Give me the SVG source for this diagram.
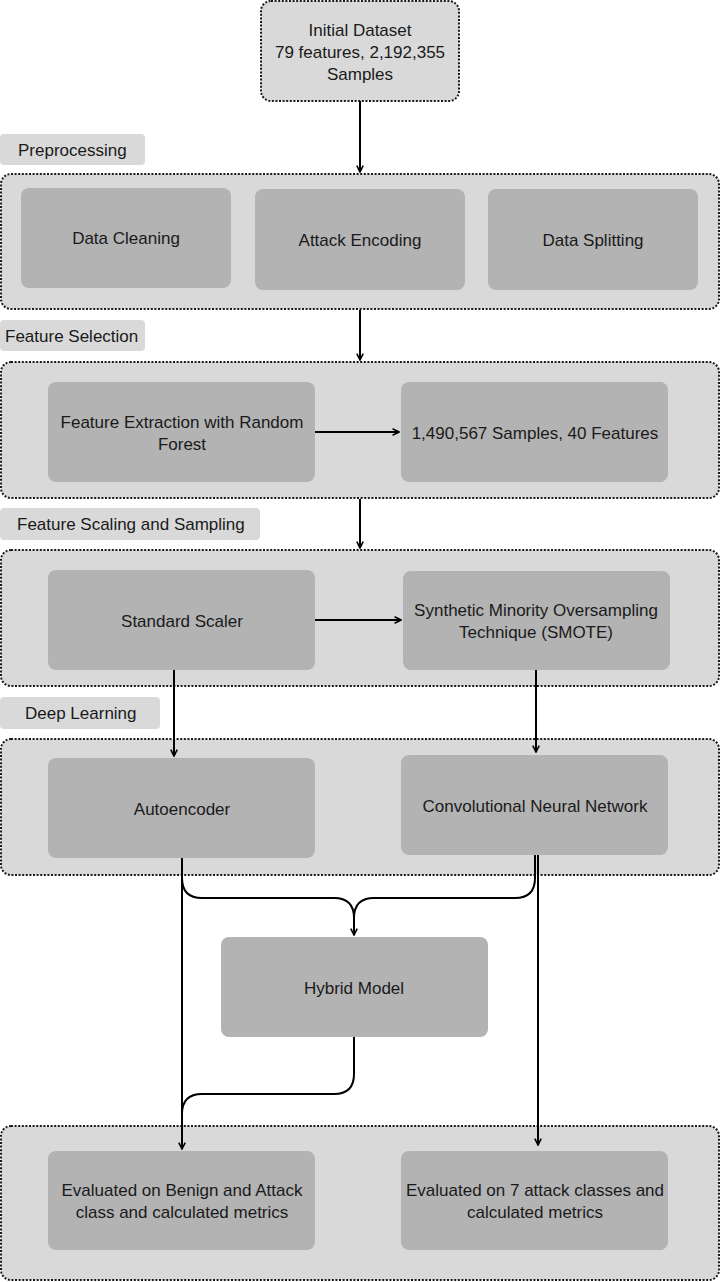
<svg xmlns="http://www.w3.org/2000/svg" width="721" height="1282" viewBox="0 0 721 1282">
<style>
.bg{fill:#ffffff}
.cont{fill:#d9d9d9;stroke:#1a1a1a;stroke-width:2;stroke-dasharray:2 1.6}
.lab{fill:#d9d9d9}
.box{fill:#b3b3b3}
text{font-family:"Liberation Sans","Open Sans",Arial,sans-serif;font-size:17px;fill:#1a1a1a}
.c{text-anchor:middle}
.ln{fill:none;stroke:#000;stroke-width:2}
</style>
<defs>
<marker id="ah" viewBox="0 0 10 10" refX="9" refY="5" markerWidth="8" markerHeight="8" markerUnits="userSpaceOnUse" orient="auto">
<path d="M1,1 L9,5 L1,9" fill="none" stroke="#000" stroke-width="2"/>
</marker>
</defs>
<rect class="bg" x="0" y="0" width="721" height="1282"/>

<g id="initial-dataset">
<rect class="cont" x="261" y="1" width="198" height="100" rx="10"/>
<text class="c" x="360" y="36">Initial Dataset</text>
<text class="c" x="360" y="58">79 features, 2,192,355</text>
<text class="c" x="360" y="80">Samples</text>
</g>

<g id="label-preprocessing">
<rect class="lab" x="0" y="134" width="145" height="31" rx="4"/>
<text x="18" y="156">Preprocessing</text>
</g>
<g id="preprocessing">
<rect class="cont" x="1" y="174" width="718" height="135" rx="10"/>
</g>
<g id="data-cleaning">
<rect class="box" x="21" y="188" width="210" height="100" rx="8"/>
<text class="c" x="126" y="244">Data Cleaning</text>
</g>
<g id="attack-encoding">
<rect class="box" x="255" y="189" width="210" height="101" rx="8"/>
<text class="c" x="360" y="246">Attack Encoding</text>
</g>
<g id="data-splitting">
<rect class="box" x="488" y="189" width="210" height="101" rx="8"/>
<text class="c" x="593" y="246">Data Splitting</text>
</g>

<g id="label-feature-selection">
<rect class="lab" x="0" y="320" width="145" height="31" rx="4"/>
<text x="5" y="342">Feature Selection</text>
</g>
<g id="feature-selection">
<rect class="cont" x="1" y="362" width="718" height="136" rx="10"/>
</g>
<g id="feature-extraction">
<rect class="box" x="48" y="382" width="267" height="100" rx="8"/>
<text class="c" x="182" y="428">Feature Extraction with Random</text>
<text class="c" x="182" y="450">Forest</text>
</g>
<g id="samples-features">
<rect class="box" x="401" y="382" width="267" height="100" rx="8"/>
<text class="c" x="535" y="439">1,490,567 Samples, 40 Features</text>
</g>

<g id="label-feature-scaling">
<rect class="lab" x="0" y="508" width="260" height="32" rx="4"/>
<text x="17" y="530">Feature Scaling and Sampling</text>
</g>
<g id="feature-scaling">
<rect class="cont" x="1" y="550" width="718" height="136" rx="10"/>
</g>
<g id="standard-scaler">
<rect class="box" x="48" y="570" width="267" height="100" rx="8"/>
<text class="c" x="182" y="627">Standard Scaler</text>
</g>
<g id="smote">
<rect class="box" x="403" y="571" width="267" height="99" rx="8"/>
<text class="c" x="536" y="616">Synthetic Minority Oversampling</text>
<text class="c" x="536" y="638">Technique (SMOTE)</text>
</g>

<g id="label-deep-learning">
<rect class="lab" x="0" y="697" width="160" height="32" rx="4"/>
<text x="25" y="719">Deep Learning</text>
</g>
<g id="deep-learning">
<rect class="cont" x="1" y="739" width="718" height="136" rx="10"/>
</g>
<g id="autoencoder">
<rect class="box" x="48" y="758" width="267" height="100" rx="8"/>
<text class="c" x="182" y="815">Autoencoder</text>
</g>
<g id="cnn">
<rect class="box" x="401" y="755" width="267" height="100" rx="8"/>
<text class="c" x="535" y="812">Convolutional Neural Network</text>
</g>

<g id="hybrid-model">
<rect class="box" x="221" y="937" width="267" height="100" rx="8"/>
<text class="c" x="354" y="994">Hybrid Model</text>
</g>

<g id="evaluation">
<rect class="cont" x="1" y="1126" width="718" height="154" rx="10"/>
</g>
<g id="eval-binary">
<rect class="box" x="48" y="1151" width="267" height="99" rx="8"/>
<text class="c" x="182" y="1196">Evaluated on Benign and Attack</text>
<text class="c" x="182" y="1218">class and calculated metrics</text>
</g>
<g id="eval-multiclass">
<rect class="box" x="401" y="1151" width="267" height="99" rx="8"/>
<text class="c" x="535" y="1196">Evaluated on 7 attack classes and</text>
<text class="c" x="535" y="1218">calculated metrics</text>
</g>

<g id="connectors">
<path class="ln" d="M360,101 V172" marker-end="url(#ah)"/>
<path class="ln" d="M360,310 V360" marker-end="url(#ah)"/>
<path class="ln" d="M315,432 H399" marker-end="url(#ah)"/>
<path class="ln" d="M360,499 V548" marker-end="url(#ah)"/>
<path class="ln" d="M315,620 H401" marker-end="url(#ah)"/>
<path class="ln" d="M174,670 V756" marker-end="url(#ah)"/>
<path class="ln" d="M536,670 V752" marker-end="url(#ah)"/>
<path class="ln" d="M182,858 V878 Q182,898 202,898 H334 Q354,898 354,918 V935" marker-end="url(#ah)"/>
<path class="ln" d="M535,855 V878 Q535,898 515,898 H374 Q354,898 354,918"/>
<path class="ln" d="M182,858 V1149" marker-end="url(#ah)"/>
<path class="ln" d="M538,855 V1145" marker-end="url(#ah)"/>
<path class="ln" d="M354,1037 V1074 Q354,1094 334,1094 H202 Q182,1094 182,1114"/>
</g>
</svg>
